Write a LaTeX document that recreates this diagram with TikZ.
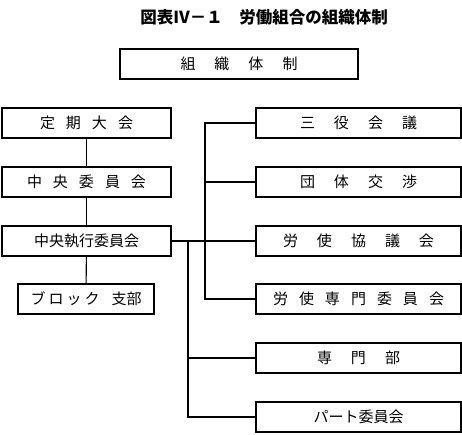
\documentclass[tikz,border=0pt]{standalone}
\usepackage{fontspec}
\setmainfont{Noto Sans CJK JP}
\usetikzlibrary{positioning}
\newcommand{\gapw}{\hspace{19pt}}
\newcommand{\gapn}{\hspace{11pt}}

\begin{document}
\begin{tikzpicture}[x=1pt,y=-1pt,font=\fontsize{15}{18}\selectfont,line width=1.1pt,
  unit/.style={draw,inner sep=0pt,minimum height=30pt},
  leftunit/.style={unit,minimum width=169pt},
  rightunit/.style={unit,minimum width=205pt}]
  \useasboundingbox (0,0) rectangle (462,435);
  \node[font=\fontsize{16.5}{18}\selectfont\bfseries] (title) at (264,17) {図表Ⅳ－１　労働組合の組織体制};
  \node[unit,minimum width=238pt] (soshiki) at (239,64) {組\gapw 織\gapw 体\gapw 制};
  % left column
  \node[leftunit] (teiki) at (86.5,123) {定\gapn 期\gapn 大\gapn 会};
  \node[leftunit] (chuo) at (86.5,182) {中\gapn 央\gapn 委\gapn 員\gapn 会};
  \node[leftunit] (shikko) at (86.5,241) {中央執行委員会};
  \node[unit,minimum width=136pt] (block) at (86,299) {ブ\hspace{3pt}ロ\hspace{3pt}ッ\hspace{3pt}ク\hspace{12pt}支部};
  % right column
  \node[rightunit] (sanyaku) at (358.5,123) {三\gapw 役\gapw 会\gapw 議};
  \node[rightunit] (dantai) at (358.5,182) {団\gapw 体\gapw 交\gapw 渉};
  \node[rightunit] (kyogi) at (358.5,241) {労\gapw 使\gapw 協\gapw 議\gapw 会};
  \node[rightunit] (senmoniin) at (358.5,299) {労\gapn 使\gapn 専\gapn 門\gapn 委\gapn 員\gapn 会};
  \node[rightunit] (senmonbu) at (358.5,358) {専\gapw 門\gapw 部};
  \node[rightunit] (part) at (358.5,417) {パート委員会};
  \coordinate (busA) at (205,0);
  \coordinate (busB) at (188,0);
  % connectors
  \draw (teiki) -- (chuo);
  \draw (chuo) -- (shikko);
  \draw (shikko) -- (block);
  \draw (shikko.east) -- (kyogi.west);
  \draw (sanyaku.west) -- (sanyaku.west -| busA) |- (senmoniin.west);
  \draw (dantai.west) -- (dantai.west -| busA);
  \draw (shikko.east -| busB) |- (part.west);
  \draw (senmonbu.west) -- (senmonbu.west -| busB);
\end{tikzpicture}
\end{document}
